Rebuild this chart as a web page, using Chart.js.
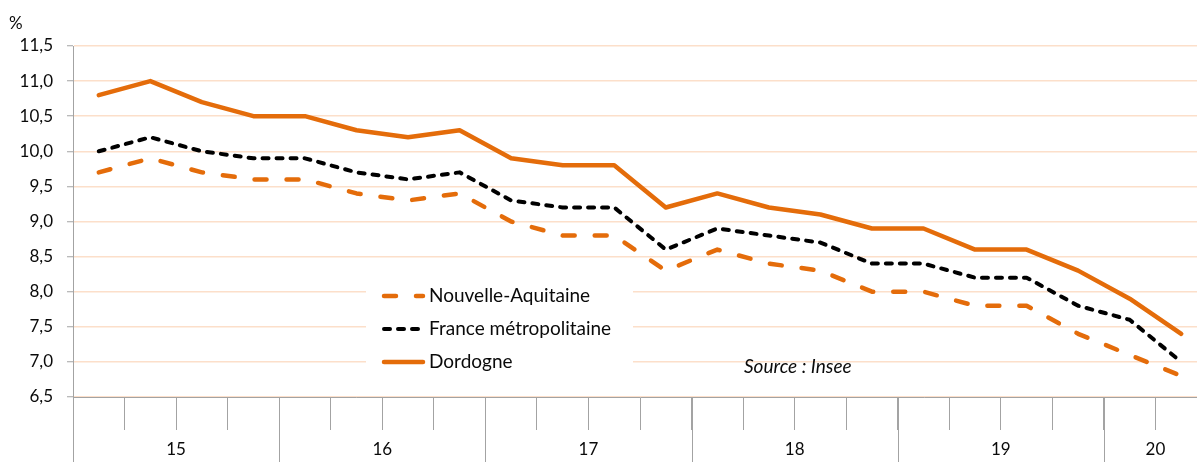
<!DOCTYPE html>
<html><head><meta charset="utf-8">
<script src="https://cdn.jsdelivr.net/npm/chart.js@4.4.1/dist/chart.umd.min.js"></script>
<style>
html,body{margin:0;padding:0;overflow:hidden;background:#fff;width:1197px;height:462px}
#wrap{position:relative;width:1210px;height:462px}
canvas{display:block}
</style></head>
<body><div id="wrap"><canvas id="c" width="1210" height="462" style="width:1210px;height:462px"></canvas></div>
<script>
// ---- data ----
const quarters = ['T1 2015','T2 2015','T3 2015','T4 2015',
                  'T1 2016','T2 2016','T3 2016','T4 2016',
                  'T1 2017','T2 2017','T3 2017','T4 2017',
                  'T1 2018','T2 2018','T3 2018','T4 2018',
                  'T1 2019','T2 2019','T3 2019','T4 2019',
                  'T1 2020','T2 2020'];
const yearLabels = ['15','16','17','18','19','20'];
const quartersPerYear = [4,4,4,4,4,2];
const nouvelleAquitaine = [9.7,9.9,9.7,9.6,9.6,9.4,9.3,9.4,9.0,8.8,8.8,8.3,8.6,8.4,8.3,8.0,8.0,7.8,7.8,7.4,7.1,6.8];
const franceMetro       = [10.0,10.2,10.0,9.9,9.9,9.7,9.6,9.7,9.3,9.2,9.2,8.6,8.9,8.8,8.7,8.4,8.4,8.2,8.2,7.8,7.6,7.0];
const dordogne          = [10.8,11.0,10.7,10.5,10.5,10.3,10.2,10.3,9.9,9.8,9.8,9.2,9.4,9.2,9.1,8.9,8.9,8.6,8.6,8.3,7.9,7.4];
const yMin = 6.5, yMax = 11.5, yStep = 0.5;
const unitLabel = '%';
const sourceText = 'Source : Insee';

// ---- styles ----
const ORANGE = '#E46C0A';
const GRID = '#fcdfca';
const AXIS = '#a3a3a3';
const TEXT = '#0a0a0a';
const FONT = 'Lato';

const decor = {
  id: 'decor',
  beforeDatasetsDraw(chart) {
    const ctx = chart.ctx;
    ctx.save();
    ctx.fillStyle = '#ffffff';
    ctx.fillRect(366, 273, 267, 104);
    ctx.restore();
  },
  afterDraw(chart) {
    const {ctx, chartArea, scales: {x}} = chart;
    const step = x.getPixelForValue(1) - x.getPixelForValue(0);
    ctx.save();
    // year separators and labels
    ctx.strokeStyle = AXIS; ctx.lineWidth = 1;
    ctx.font = '17px ' + FONT; ctx.fillStyle = TEXT;
    ctx.textAlign = 'center'; ctx.textBaseline = 'middle';
    let idx = 0;
    yearLabels.forEach((lab, k) => {
      const n = quartersPerYear[k];
      const xl = Math.round(x.getPixelForValue(idx) - step / 2) + 0.5;
      ctx.beginPath(); ctx.moveTo(xl, chartArea.bottom); ctx.lineTo(xl, chart.height); ctx.stroke();
      const cx = (x.getPixelForValue(idx) + x.getPixelForValue(idx + n - 1)) / 2;
      ctx.fillText(lab, cx, 450);
      idx += n;
    });
    // unit label
    ctx.textAlign = 'left';
    ctx.fillText(unitLabel, 9, 24);
    // source
    ctx.font = 'italic 19px ' + FONT;
    ctx.fillText(sourceText, 744, 367);
    // legend
    const rows = [296, 329, 362];
    ctx.font = '19px ' + FONT;
    chart.data.datasets.forEach((ds, i) => {
      const y = rows[i];
      ctx.save();
      ctx.strokeStyle = ds.borderColor;
      ctx.lineWidth = ds.borderWidth;
      ctx.lineCap = 'round';
      ctx.setLineDash(ds.borderDash || []);
      ctx.beginPath(); ctx.moveTo(384, y); ctx.lineTo(423, y); ctx.stroke();
      ctx.restore();
      ctx.fillStyle = TEXT;
      ctx.textAlign = 'left'; ctx.textBaseline = 'middle';
      ctx.fillText(ds.label, 429, y);
    });
    ctx.restore();
  }
};

new Chart(document.getElementById('c'), {
  type: 'line',
  data: {
    labels: quarters,
    datasets: [
      {label: 'Nouvelle-Aquitaine', data: nouvelleAquitaine, borderColor: ORANGE, borderWidth: 4.5,
       borderDash: [12, 20], borderCapStyle: 'round', borderJoinStyle: 'round', pointRadius: 0, tension: 0, fill: false},
      {label: 'France métropolitaine', data: franceMetro, borderColor: '#000000', borderWidth: 4,
       borderDash: [6, 8], borderCapStyle: 'round', borderJoinStyle: 'round', pointRadius: 0, tension: 0, fill: false},
      {label: 'Dordogne', data: dordogne, borderColor: ORANGE, borderWidth: 4.5,
       borderCapStyle: 'round', borderJoinStyle: 'round', pointRadius: 0, tension: 0, fill: false}
    ]
  },
  options: {
    responsive: false,
    animation: false,
    devicePixelRatio: 1,
    layout: {padding: {top: 46, right: 3, bottom: 32, left: 0}},
    plugins: {legend: {display: false}, tooltip: {enabled: false}},
    scales: {
      x: {
        type: 'category',
        offset: true,
        grid: {offset: true, drawOnChartArea: false, drawTicks: true, tickLength: 33, color: AXIS, lineWidth: 1},
        border: {color: AXIS, width: 1},
        ticks: {display: false, autoSkip: false}
      },
      y: {
        min: yMin, max: yMax,
        afterFit(s) { s.width = 73; },
        grid: {color: GRID, lineWidth: 1.5, tickColor: AXIS, tickLength: 6, tickWidth: 1},
        border: {color: AXIS, width: 1},
        ticks: {stepSize: yStep, padding: 14, color: TEXT, font: {family: FONT, size: 17},
                callback: v => v.toFixed(1).replace('.', ',')}
      }
    }
  },
  plugins: [decor]
});
</script>
</body></html>
